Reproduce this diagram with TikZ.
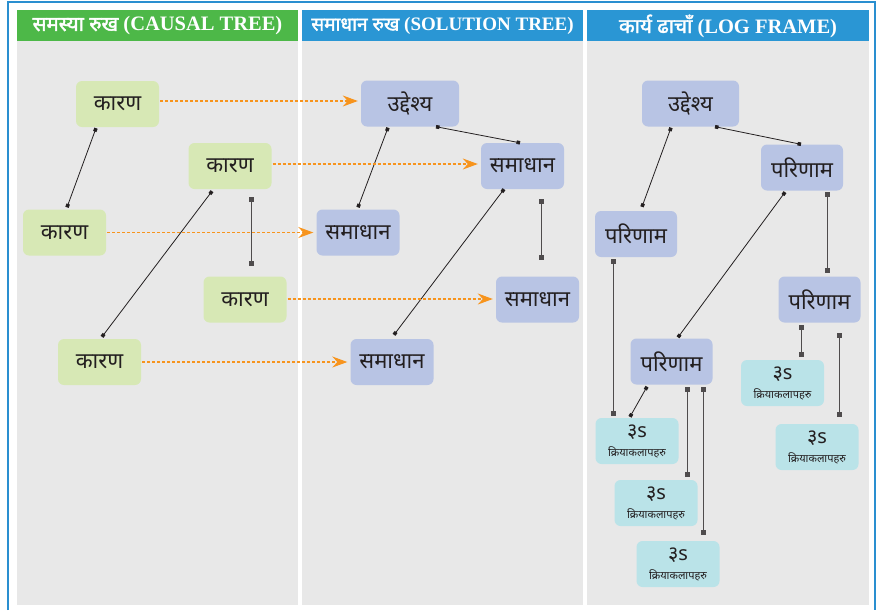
\documentclass[tikz,border=0pt]{standalone}
\usepackage{fontspec}
\setmainfont{Liberation Serif}
\newfontfamily\devfont[Script=Devanagari]{Noto Sans}
\newfontfamily\devfontbold[Script=Devanagari,FakeBold=2]{Noto Sans}
\usepackage{xcolor}
\usepackage{tikz}
\usetikzlibrary{positioning,calc,arrows.meta}

\definecolor{frameblue}{HTML}{2A8FD0}
\definecolor{headgreen}{HTML}{4DB848}
\definecolor{headblue}{HTML}{2A96D4}
\definecolor{panelgray}{HTML}{E8E8E8}
\definecolor{causegreen}{HTML}{D7E8B5}
\definecolor{solblue}{HTML}{B8C4E4}
\definecolor{actcyan}{HTML}{BAE3E8}
\definecolor{flowline}{HTML}{F7941D}
\definecolor{inkdark}{HTML}{231F20}

\tikzset{
  box/.style={rounded corners=6pt, inner sep=0pt, minimum width=83pt, minimum height=46pt,
    text=inkdark, font=\devfont\fontsize{22}{24}\selectfont},
  cause/.style={box, fill=causegreen},
  sol/.style={box, fill=solblue},
  act/.style={box, fill=actcyan, align=center, font=\devfont\fontsize{11}{19}\selectfont},
  headbar/.style={text=white, font=\bfseries\fontsize{20.5}{22}\selectfont},
  link/.style={draw=inkdark, line width=0.8pt, {Square[length=3.5pt,width=3.5pt]}-{Square[length=3.5pt,width=3.5pt]}},
  vlink/.style={draw=inkdark!80, line width=1pt, {Square[length=5pt,width=5pt]}-{Square[length=5pt,width=5pt]}},
  flow/.style={draw=flowline, line width=1.1pt, dash pattern=on 3pt off 2pt,
    -{Stealth[length=15pt,width=11pt,inset=5pt]}, shorten <=1pt, shorten >=3pt}
}
\newcommand{\headtext}[2]{{\devfontbold #1} (#2)}
\newcommand{\acttext}{{\fontsize{20}{20}\selectfont ३s}\\क्रियाकलापहरु}

\begin{document}
\begin{tikzpicture}[x=1pt,y=-1pt]
    % Frame
    \fill [white] (0,0) rectangle (877,610);
    \draw [frameblue, line width=2pt] (8,610) -- (8,2) -- (875,2) -- (875,610);
    % Panels
    \fill [panelgray] (17,41) rectangle (298,605);
    \fill [panelgray] (302,41) rectangle (583,605);
    \fill [panelgray] (587,41) rectangle (869,605);
    \fill [headgreen] (17,10) rectangle (298,41);
    \fill [headblue] (302,10) rectangle (583,41);
    \fill [headblue] (587,10) rectangle (869,41);
    \node [headbar] (h1) at (157.5,26) {\headtext{समस्या रुख}{CAUSAL TREE}};
    \node [headbar, font=\bfseries\fontsize{19}{21}\selectfont] (h2) at (442.5,26) {\headtext{समाधान रुख}{SOLUTION TREE}};
    \node [headbar] (h3) at (728,26) {\headtext{कार्य ढाचाँ}{LOG FRAME}};

    % Causal tree
    \node [cause] (c1) at (117.5,104) {कारण};
    \node [cause] (c2) at (230,166) {कारण};
    \node [cause] (c3) at (64.5,232.5) {कारण};
    \node [cause] (c4) at (245,299.5) {कारण};
    \node [cause] (c5) at (99.5,362) {कारण};
    \draw [link] ([xshift=-21.5pt,yshift=-1pt]c1.south) -- ([xshift=2.5pt,yshift=2pt]c3.north);
    \draw [link] ([xshift=-18pt,yshift=-2pt]c2.south) -- ([xshift=2.5pt,yshift=2pt]c5.north);
    \draw [vlink] ([xshift=21pt,yshift=-8pt]c2.south) -- ([xshift=6pt,yshift=10pt]c4.north);

    % Solution tree
    \node [sol, minimum width=98pt] (o1) at (410,103.5) {उद्देश्य};
    \node [sol] (s1) at (522.5,166) {समाधान};
    \node [sol] (s2) at (358,232.5) {समाधान};
    \node [sol] (s3) at (537.5,299.5) {समाधान};
    \node [sol] (s4) at (392,362) {समाधान};
    \draw [link] ([xshift=-22pt,yshift=-1pt]o1.south) -- ([yshift=2pt]s2.north);
    \draw [link] ([xshift=26pt]o1.south) -- ([xshift=-2.5pt]s1.north);
    \draw [link] ([xshift=-18.5pt]s1.south) -- ([xshift=2pt,yshift=4pt]s4.north);
    \draw [vlink] ([xshift=18.5pt,yshift=-10pt]s1.south) -- ([xshift=3.5pt,yshift=16pt]s3.north);

    % Cause to solution
    \draw [flow] ([yshift=3pt]c1.east) -- ([yshift=3pt]c1.east -| o1.west);
    \draw [flow] ([yshift=2pt]c2.east) -- ([yshift=2pt]c2.east -| s1.west);
    \draw [flow] (c3.east) -- (c3.east -| s2.west);
    \draw [flow] ([yshift=0.5pt]c4.east) -- ([yshift=0.5pt]c4.east -| s3.west);
    \draw [flow] (c5.east) -- (c5.east -| s4.west);

    % Log frame
    \node [sol, minimum width=97pt] (o2) at (690.5,103.5) {उद्देश्य};
    \node [sol, minimum width=82pt] (r1) at (802,167.5) {परिणाम};
    \node [sol, minimum width=82pt] (r2) at (636,234) {परिणाम};
    \node [sol, minimum width=82pt] (r3) at (819.5,299.5) {परिणाम};
    \node [sol, minimum width=82pt] (r4) at (671.5,361.5) {परिणाम};
    \node [act] (a1) at (637,441) {\acttext};
    \node [act] (a2) at (656,503) {\acttext};
    \node [act] (a3) at (678,564) {\acttext};
    \node [act] (a4) at (782.5,383) {\acttext};
    \node [act] (a5) at (817,447) {\acttext};
    \draw [link] ([xshift=-19.5pt,yshift=-1pt]o2.south) -- ([xshift=6pt,yshift=4pt]r2.north);
    \draw [link] ([xshift=24.5pt]o2.south) -- ([xshift=-1pt]r1.north);
    \draw [link] ([xshift=-17pt,yshift=-1.5pt]r1.south) -- ([xshift=6.5pt,yshift=1pt]r4.north);
    \draw [vlink] ([xshift=25pt,yshift=-1.5pt]r1.south) -- ([xshift=7.5pt,yshift=3pt]r3.north);
    \draw [vlink] ([xshift=-23pt,yshift=-2pt]r2.south) -- ([xshift=-24pt,yshift=2pt]a1.north);
    \draw [link] ([xshift=-24.5pt,yshift=-2pt]r4.south) -- ([xshift=-7pt,yshift=1pt]a1.north);
    \draw [vlink] ([xshift=15.5pt,yshift=-2pt]r4.south) -- ([xshift=31pt,yshift=3pt]a2.north);
    \draw [vlink] ([xshift=31.5pt,yshift=-2pt]r4.south) -- ([xshift=25pt,yshift=6pt]a3.north);
    \draw [vlink] ([xshift=-18.5pt,yshift=-2pt]r3.south) -- ([xshift=18.5pt,yshift=3pt]a4.north);
    \draw [vlink] ([xshift=19.5pt,yshift=-10pt]r3.south) -- ([xshift=22pt,yshift=7pt]a5.north);
\end{tikzpicture}
\end{document}
